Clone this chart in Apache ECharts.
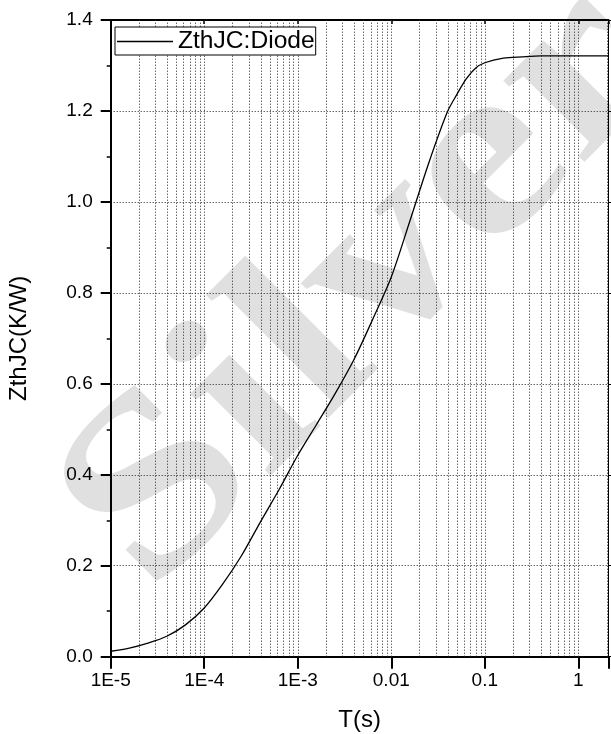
<!DOCTYPE html>
<html>
<head>
<meta charset="utf-8">
<script src="https://cdn.jsdelivr.net/npm/echarts@6/dist/echarts.min.js"></script>
<style>
html,body{margin:0;padding:0;background:#fff;}
#chart{width:611px;height:734px;}
</style>
</head>
<body>
<div id="chart"></div>
<script>
// Data (time in s, ZthJC in K/W)
var timeS = [1e-5, 1.58e-5, 2.5e-5, 3.98e-5, 6.3e-5, 1e-4, 1.58e-4, 2.5e-4, 3.98e-4, 6.3e-4, 1e-3, 1.58e-3, 2.5e-3, 3.98e-3, 6.3e-3, 0.01, 0.0158, 0.0251, 0.0398, 0.0501, 0.063, 0.0794, 0.1, 0.158, 0.251, 0.398, 1, 2.1];
var zthJC = [0.012, 0.019, 0.030, 0.045, 0.070, 0.107, 0.160, 0.222, 0.296, 0.367, 0.443, 0.510, 0.578, 0.653, 0.741, 0.835, 0.958, 1.085, 1.198, 1.236, 1.270, 1.294, 1.306, 1.316, 1.319, 1.321, 1.321, 1.321];
var seriesName = 'ZthJC:Diode';
var xTickValues = [1e-5, 1e-4, 1e-3, 0.01, 0.1, 1];
var xTickLabels = ['1E-5', '1E-4', '1E-3', '0.01', '0.1', '1'];
var decades = [1e-5, 1e-4, 1e-3, 0.01, 0.1, 1];
var mantissas = [1, 2, 3, 4, 5, 6, 7, 8, 9];
var xMin = 1e-5, xMax = 2.1;
var yMin = 0, yMax = 1.4, yStep = 0.2;

var points = timeS.map(function (t, i) { return [t, zthJC[i]]; });
var gridX = [];
decades.forEach(function (d) {
  mantissas.forEach(function (m) {
    var v = +(d * m).toPrecision(3);
    if (v > xMin && v < xMax) gridX.push([v, yMin]);
  });
});

function xLabel(v) {
  for (var i = 0; i < xTickValues.length; i++) {
    if (Math.abs(Math.log10(v) - Math.log10(xTickValues[i])) < 1e-6) return xTickLabels[i];
  }
  return '';
}

var dotted = { color: '#222', width: 1, type: [1, 2] };
var chart = echarts.init(document.getElementById('chart'), null, { renderer: 'canvas' });
chart.setOption({
  animation: false,
  backgroundColor: '#fff',
  textStyle: { fontFamily: 'Liberation Sans, Arial, sans-serif' },
  graphic: [{
    type: 'text', silent: true, z: -10,
    x: 365, y: 290, rotation: Math.PI / 4, scaleX: 1.18, scaleY: 1,
    style: {
      text: 'Silver', fill: 'rgba(0,0,0,0.12)',
      font: 'bold 250px "Liberation Serif", serif',
      align: 'center', verticalAlign: 'middle'
    }
  }],
  grid: { left: 110.7, right: 2.5, top: 20, bottom: 77.3, containLabel: false, outerBoundsMode: 'none' },
  legend: {
    left: 115, top: 27,
    data: [{ name: seriesName, icon: 'path://M0,0H56V1.4H0Z' }],
    backgroundColor: '#fff', borderColor: '#000', borderWidth: 1,
    padding: [2, 1, 1, 2],
    itemWidth: 56, itemHeight: 1.4,
    textStyle: { fontSize: 24.6, color: '#000', fontFamily: 'Liberation Sans, Arial, sans-serif' }
  },
  xAxis: [{
    type: 'log', logBase: 10, min: xMin, max: xMax, position: 'bottom',
    name: 'T(s)', nameLocation: 'middle', nameGap: 52,
    nameTextStyle: { fontSize: 24, color: '#000' },
    axisLine: { show: true, onZero: false, lineStyle: { color: '#000', width: 2 } },
    axisTick: { show: true, inside: false, length: 12, lineStyle: { color: '#000', width: 2 } },
    axisLabel: { fontSize: 19, color: '#000', margin: 15, formatter: xLabel },
    splitLine: { show: false }
  }, {
    type: 'log', logBase: 10, min: xMin, max: xMax, position: 'top',
    axisLine: { show: true, onZero: false, lineStyle: { color: '#000', width: 2 } },
    axisTick: { show: true, inside: true, length: 4, lineStyle: { color: '#000', width: 1.5 } },
    axisLabel: { show: false },
    splitLine: { show: false }
  }],
  yAxis: [{
    type: 'value', min: yMin, max: yMax, interval: yStep, position: 'left',
    name: 'ZthJC(K/W)', nameLocation: 'middle', nameGap: 79, nameRotate: 90,
    nameTextStyle: { fontSize: 24, color: '#000' },
    axisLine: { show: true, onZero: false, lineStyle: { color: '#000', width: 2 } },
    axisTick: { show: true, inside: false, length: 10, lineStyle: { color: '#000', width: 2 } },
    minorTick: { show: true, splitNumber: 2, length: 4, lineStyle: { color: '#000', width: 1.5 } },
    axisLabel: { fontSize: 19, color: '#000', margin: 18, formatter: function (v) { return v.toFixed(1); } },
    splitLine: { show: true, lineStyle: dotted }
  }, {
    type: 'value', min: yMin, max: yMax, interval: yStep, position: 'right',
    axisLine: { show: true, onZero: false, lineStyle: { color: '#000', width: 1 } },
    axisTick: { show: true, inside: false, length: 3, lineStyle: { color: '#000', width: 1 } },
    axisLabel: { show: false },
    splitLine: { show: false }
  }],
  series: [{
    name: 'vgrid', type: 'custom', data: gridX, silent: true, z: 1,
    encode: { x: 0, y: 1 },
    renderItem: function (params, api) {
      var v = api.value(0);
      var p1 = api.coord([v, yMin]);
      var p2 = api.coord([v, yMax]);
      var x = Math.round(p1[0]) + 0.5;
      return {
        type: 'line', silent: true,
        shape: { x1: x, y1: p1[1], x2: x, y2: p2[1] },
        style: { stroke: '#222', lineWidth: 1, lineDash: [1, 2] }
      };
    }
  }, {
    name: seriesName, type: 'line', data: points, showSymbol: false, symbol: 'none',
    smooth: 0.3, z: 5,
    lineStyle: { color: '#000', width: 1.3 },
    itemStyle: { color: '#000' }
  }]
});
</script>
</body>
</html>
